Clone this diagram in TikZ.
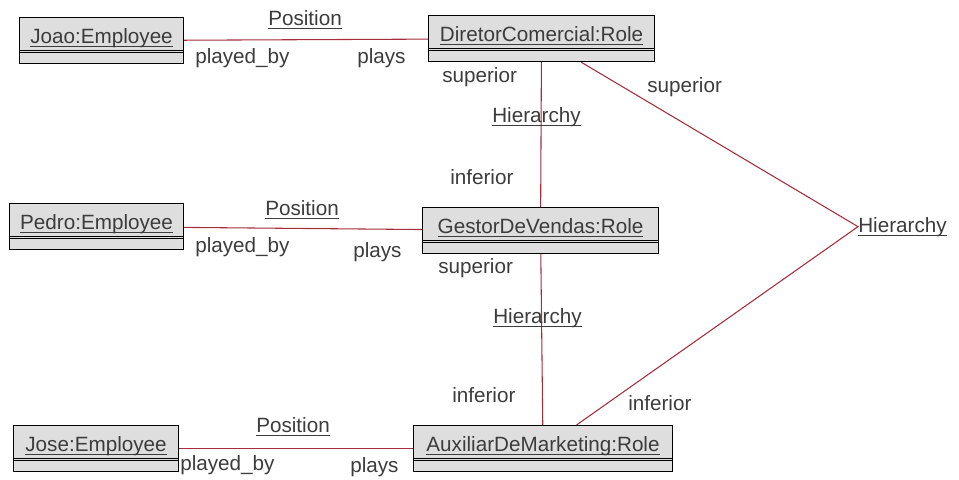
\documentclass[tikz,border=0pt]{standalone}
\usepackage{fontspec}
\setmainfont{Liberation Sans}
\usetikzlibrary{shapes.multipart, positioning}
\definecolor{linkred}{RGB}{165,45,60}
\definecolor{boxgray}{RGB}{222,222,222}
\definecolor{txtgray}{RGB}{60,60,60}
\newcommand{\pxu}{0.75pt}
\newcommand{\uname}[1]{\setbox0\hbox{#1}\rlap{\rule[-3.2pt]{\wd0}{0.7pt}}\box0}
\newcommand{\objstrut}{\rule[-6.75pt]{0pt}{25.5pt}}
\newcommand{\partstrut}{\rule{0pt}{7.5pt}}
\tikzset{
  objbox/.style = {rectangle split, rectangle split parts=2, draw=black,
    line width=0.8pt, fill=boxgray, inner xsep=0pt, inner ysep=0pt,
    anchor=north west, text=txtgray, font=\fontsize{15.5}{18}\selectfont},% objet UML
  rolename/.style = {inner sep=0pt, anchor=base west, text=txtgray,
    font=\fontsize{15.5}{18}\selectfont},% nom de role
  rolelink/.style = {draw=linkred, line width=0.8pt}% lien
}

\begin{document}
\begin{tikzpicture}[x=\pxu, y=-\pxu]
\useasboundingbox (0,0) rectangle (959,479);
\node (joao) [objbox, minimum width=164*\pxu] at (19,17)
  {\uname{Joao:Employee}\objstrut\nodepart{two}\partstrut};
\node (dircom) [objbox, minimum width=226*\pxu] at (428,15)
  {\uname{DiretorComercial:Role}\objstrut\nodepart{two}\partstrut};
\node (pedro) [objbox, minimum width=174*\pxu] at (9,203)
  {\uname{Pedro:Employee}\objstrut\nodepart{two}\partstrut};
\node (gestor) [objbox, minimum width=236*\pxu] at (422,207)
  {\uname{GestorDeVendas:Role}\objstrut\nodepart{two}\partstrut};
\node (jose) [objbox, minimum width=165*\pxu] at (13,425)
  {\uname{Jose:Employee}\objstrut\nodepart{two}\partstrut};
\node (aux) [objbox, minimum width=259*\pxu] at (413,425)
  {\uname{AuxiliarDeMarketing:Role}\objstrut\nodepart{two}\partstrut};
\foreach \n in {joao, dircom, pedro, gestor, jose, aux}
  \draw[line width=0.8pt] ([yshift=1.6pt]\n.text split west)
    -- ([yshift=1.6pt]\n.text split east);
\node (hier3) [rolename] at (858,232) {\uname{Hierarchy}};

\draw[rolelink] (joao) -- (dircom);
\draw[rolelink] (pedro) -- (gestor);
\draw[rolelink] (jose) -- (aux);
\draw[rolelink] (dircom) -- (gestor);
\draw[rolelink] (gestor) -- (aux);
\draw[rolelink] (dircom) -- (hier3.west) -- (aux);

% Joao - DiretorComercial
\node (pos1) [rolename] at (268,25) {\uname{Position}};
\node (pb1) [rolename] at (195,63) {played\_by};
\node (pl1) [rolename] at (357,63) {plays};
% DiretorComercial - GestorDeVendas
\node (sup1) [rolename] at (442,82) {superior};
\node (hier1) [rolename] at (492,122) {\uname{Hierarchy}};
\node (inf1) [rolename] at (450,184) {inferior};
\node (sup2) [rolename] at (647,92) {superior};
% Pedro - GestorDeVendas
\node (pos2) [rolename] at (265,215) {\uname{Position}};
\node (pb2) [rolename] at (195,252) {played\_by};
\node (pl2) [rolename] at (353,257) {plays};
% GestorDeVendas - AuxiliarDeMarketing
\node (sup3) [rolename] at (438,273) {superior};
\node (hier2) [rolename] at (493,323) {\uname{Hierarchy}};
\node (inf2) [rolename] at (452,402) {inferior};
\node (inf3) [rolename] at (628,410) {inferior};
% Jose - AuxiliarDeMarketing
\node (pos3) [rolename] at (256,432) {\uname{Position}};
\node (pb3) [rolename] at (180,470) {played\_by};
\node (pl3) [rolename] at (350,472) {plays};
\end{tikzpicture}
\end{document}
